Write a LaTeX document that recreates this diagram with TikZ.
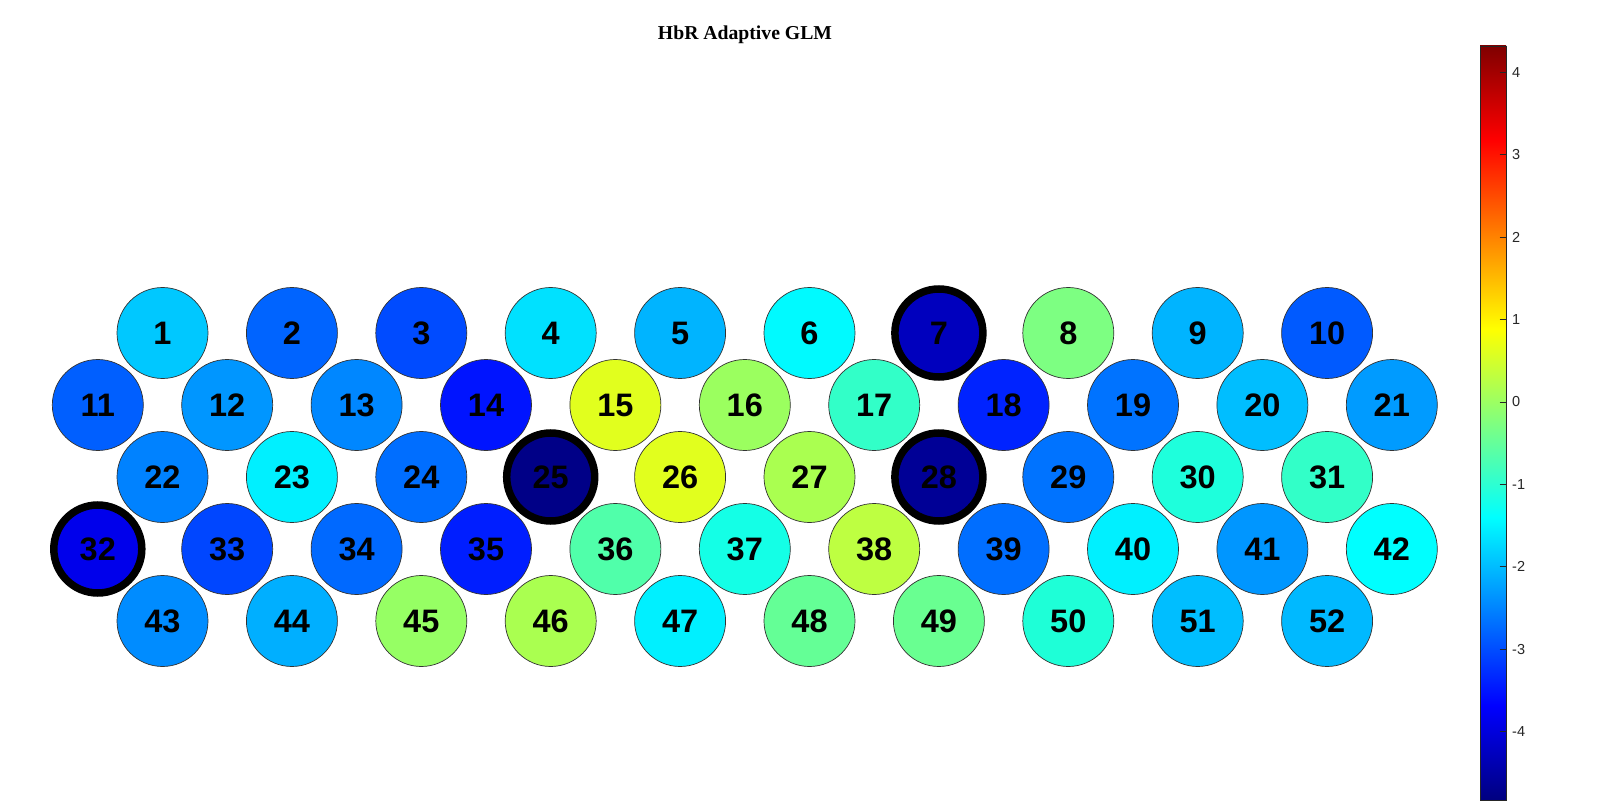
\documentclass[tikz,border=0pt]{standalone}
\usepackage{fontspec}
\setmainfont{Liberation Serif}
\setsansfont{Liberation Sans}
\usepackage{tikz}

\definecolor{c1}{RGB}{0,200,255}
\definecolor{c2}{RGB}{0,100,255}
\definecolor{c3}{RGB}{0,75,255}
\definecolor{c4}{RGB}{0,225,255}
\definecolor{c5}{RGB}{0,180,255}
\definecolor{c6}{RGB}{0,250,255}
\definecolor{c7}{RGB}{0,0,190}
\definecolor{c8}{RGB}{125,255,130}
\definecolor{c9}{RGB}{0,180,255}
\definecolor{c10}{RGB}{0,90,255}
\definecolor{c11}{RGB}{0,95,255}
\definecolor{c12}{RGB}{0,150,255}
\definecolor{c13}{RGB}{0,135,255}
\definecolor{c14}{RGB}{0,20,255}
\definecolor{c15}{RGB}{225,255,30}
\definecolor{c16}{RGB}{155,255,95}
\definecolor{c17}{RGB}{50,255,200}
\definecolor{c18}{RGB}{0,35,255}
\definecolor{c19}{RGB}{0,115,255}
\definecolor{c20}{RGB}{0,190,255}
\definecolor{c21}{RGB}{0,155,255}
\definecolor{c22}{RGB}{0,130,255}
\definecolor{c23}{RGB}{0,240,255}
\definecolor{c24}{RGB}{0,110,255}
\definecolor{c25}{RGB}{0,0,135}
\definecolor{c26}{RGB}{225,255,30}
\definecolor{c27}{RGB}{170,255,80}
\definecolor{c28}{RGB}{0,0,150}
\definecolor{c29}{RGB}{0,115,255}
\definecolor{c30}{RGB}{30,255,220}
\definecolor{c31}{RGB}{50,255,200}
\definecolor{c32}{RGB}{0,0,235}
\definecolor{c33}{RGB}{0,70,255}
\definecolor{c34}{RGB}{0,105,255}
\definecolor{c35}{RGB}{0,30,255}
\definecolor{c36}{RGB}{80,255,170}
\definecolor{c37}{RGB}{20,255,230}
\definecolor{c38}{RGB}{190,255,65}
\definecolor{c39}{RGB}{0,110,255}
\definecolor{c40}{RGB}{0,240,255}
\definecolor{c41}{RGB}{0,150,255}
\definecolor{c42}{RGB}{0,255,255}
\definecolor{c43}{RGB}{0,140,255}
\definecolor{c44}{RGB}{0,175,255}
\definecolor{c45}{RGB}{150,255,100}
\definecolor{c46}{RGB}{170,255,80}
\definecolor{c47}{RGB}{0,240,255}
\definecolor{c48}{RGB}{100,255,150}
\definecolor{c49}{RGB}{105,255,145}
\definecolor{c50}{RGB}{30,255,215}
\definecolor{c51}{RGB}{0,190,255}
\definecolor{c52}{RGB}{0,185,255}
\definecolor{axisgray}{RGB}{38,38,38}

% jet colormap for the colour bar
\definecolor{jetA}{rgb}{0,0,0.5}
\definecolor{jetB}{rgb}{0,0,1}
\definecolor{jetC}{rgb}{0,1,1}
\definecolor{jetD}{rgb}{1,1,0}
\definecolor{jetE}{rgb}{1,0,0}
\definecolor{jetF}{rgb}{0.5,0,0}
\pgfdeclareverticalshading{jetbar}{100bp}{color(0bp)=(jetA); color(25bp)=(jetA);
  color(31.25bp)=(jetB); color(43.75bp)=(jetC); color(56.25bp)=(jetD);
  color(68.75bp)=(jetE); color(75bp)=(jetF); color(100bp)=(jetF)}

\begin{document}
\begin{tikzpicture}
  [x=1pt,y=-1pt,
   chan/.style={circle,draw=black!80,line width=0.7pt,minimum size=91pt,inner sep=0pt,
     font=\sffamily\bfseries\fontsize{32.5}{36}\selectfont},
   sig/.style={draw=black,line width=7.5pt,minimum size=88pt},
   ticklab/.style={anchor=west,inner sep=0pt,text=axisgray,font=\sffamily\fontsize{14.5}{16}\selectfont}]
  \useasboundingbox (0,0) rectangle (1601,810);
  \node[font=\bfseries\fontsize{19.7}{22}\selectfont,anchor=base] (title) at (745,39.5) {HbR Adaptive GLM};
  % row 1
  \node[chan,fill=c1] (n1) at (162.5,333) {1};
  \node[chan,fill=c2] (n2) at (291.9,333) {2};
  \node[chan,fill=c3] (n3) at (421.3,333) {3};
  \node[chan,fill=c4] (n4) at (550.7,333) {4};
  \node[chan,fill=c5] (n5) at (680.1,333) {5};
  \node[chan,fill=c6] (n6) at (809.5,333) {6};
  \node[chan,sig,fill=c7] (n7) at (938.9,333) {7};
  \node[chan,fill=c8] (n8) at (1068.3,333) {8};
  \node[chan,fill=c9] (n9) at (1197.7,333) {9};
  \node[chan,fill=c10] (n10) at (1327.1,333) {10};
  % row 2
  \node[chan,fill=c11] (n11) at (97.8,405) {11};
  \node[chan,fill=c12] (n12) at (227.2,405) {12};
  \node[chan,fill=c13] (n13) at (356.6,405) {13};
  \node[chan,fill=c14] (n14) at (486,405) {14};
  \node[chan,fill=c15] (n15) at (615.4,405) {15};
  \node[chan,fill=c16] (n16) at (744.8,405) {16};
  \node[chan,fill=c17] (n17) at (874.2,405) {17};
  \node[chan,fill=c18] (n18) at (1003.6,405) {18};
  \node[chan,fill=c19] (n19) at (1133,405) {19};
  \node[chan,fill=c20] (n20) at (1262.4,405) {20};
  \node[chan,fill=c21] (n21) at (1391.8,405) {21};
  % row 3
  \node[chan,fill=c22] (n22) at (162.5,477) {22};
  \node[chan,fill=c23] (n23) at (291.9,477) {23};
  \node[chan,fill=c24] (n24) at (421.3,477) {24};
  \node[chan,sig,fill=c25] (n25) at (550.7,477) {25};
  \node[chan,fill=c26] (n26) at (680.1,477) {26};
  \node[chan,fill=c27] (n27) at (809.5,477) {27};
  \node[chan,sig,fill=c28] (n28) at (938.9,477) {28};
  \node[chan,fill=c29] (n29) at (1068.3,477) {29};
  \node[chan,fill=c30] (n30) at (1197.7,477) {30};
  \node[chan,fill=c31] (n31) at (1327.1,477) {31};
  % row 4
  \node[chan,sig,fill=c32] (n32) at (97.8,549) {32};
  \node[chan,fill=c33] (n33) at (227.2,549) {33};
  \node[chan,fill=c34] (n34) at (356.6,549) {34};
  \node[chan,fill=c35] (n35) at (486,549) {35};
  \node[chan,fill=c36] (n36) at (615.4,549) {36};
  \node[chan,fill=c37] (n37) at (744.8,549) {37};
  \node[chan,fill=c38] (n38) at (874.2,549) {38};
  \node[chan,fill=c39] (n39) at (1003.6,549) {39};
  \node[chan,fill=c40] (n40) at (1133,549) {40};
  \node[chan,fill=c41] (n41) at (1262.4,549) {41};
  \node[chan,fill=c42] (n42) at (1391.8,549) {42};
  % row 5
  \node[chan,fill=c43] (n43) at (162.5,621) {43};
  \node[chan,fill=c44] (n44) at (291.9,621) {44};
  \node[chan,fill=c45] (n45) at (421.3,621) {45};
  \node[chan,fill=c46] (n46) at (550.7,621) {46};
  \node[chan,fill=c47] (n47) at (680.1,621) {47};
  \node[chan,fill=c48] (n48) at (809.5,621) {48};
  \node[chan,fill=c49] (n49) at (938.9,621) {49};
  \node[chan,fill=c50] (n50) at (1068.3,621) {50};
  \node[chan,fill=c51] (n51) at (1197.7,621) {51};
  \node[chan,fill=c52] (n52) at (1327.1,621) {52};
  % colour bar
  \shade[shading=jetbar] (1480,46) rectangle (1506,800);
  \draw[axisgray,line width=0.8pt] (1480,46) rectangle (1506,800);
  \draw[axisgray,line width=0.8pt]
    (1499.5,72.4) -- (1506,72.4)   (1499.5,154.8) -- (1506,154.8)
    (1499.5,237.2) -- (1506,237.2) (1499.5,319.6) -- (1506,319.6)
    (1499.5,402) -- (1506,402)     (1499.5,484.4) -- (1506,484.4)
    (1499.5,566.8) -- (1506,566.8) (1499.5,649.2) -- (1506,649.2)
    (1499.5,731.6) -- (1506,731.6);
  \node[ticklab] (t4) at (1512,72.4) {4};
  \node[ticklab] (t3) at (1512,154.8) {3};
  \node[ticklab] (t2) at (1512,237.2) {2};
  \node[ticklab] (t1) at (1512,319.6) {1};
  \node[ticklab] (t0) at (1512,402) {0};
  \node[ticklab] (tm1) at (1512,484.4) {-1};
  \node[ticklab] (tm2) at (1512,566.8) {-2};
  \node[ticklab] (tm3) at (1512,649.2) {-3};
  \node[ticklab] (tm4) at (1512,731.6) {-4};
\end{tikzpicture}
\end{document}
